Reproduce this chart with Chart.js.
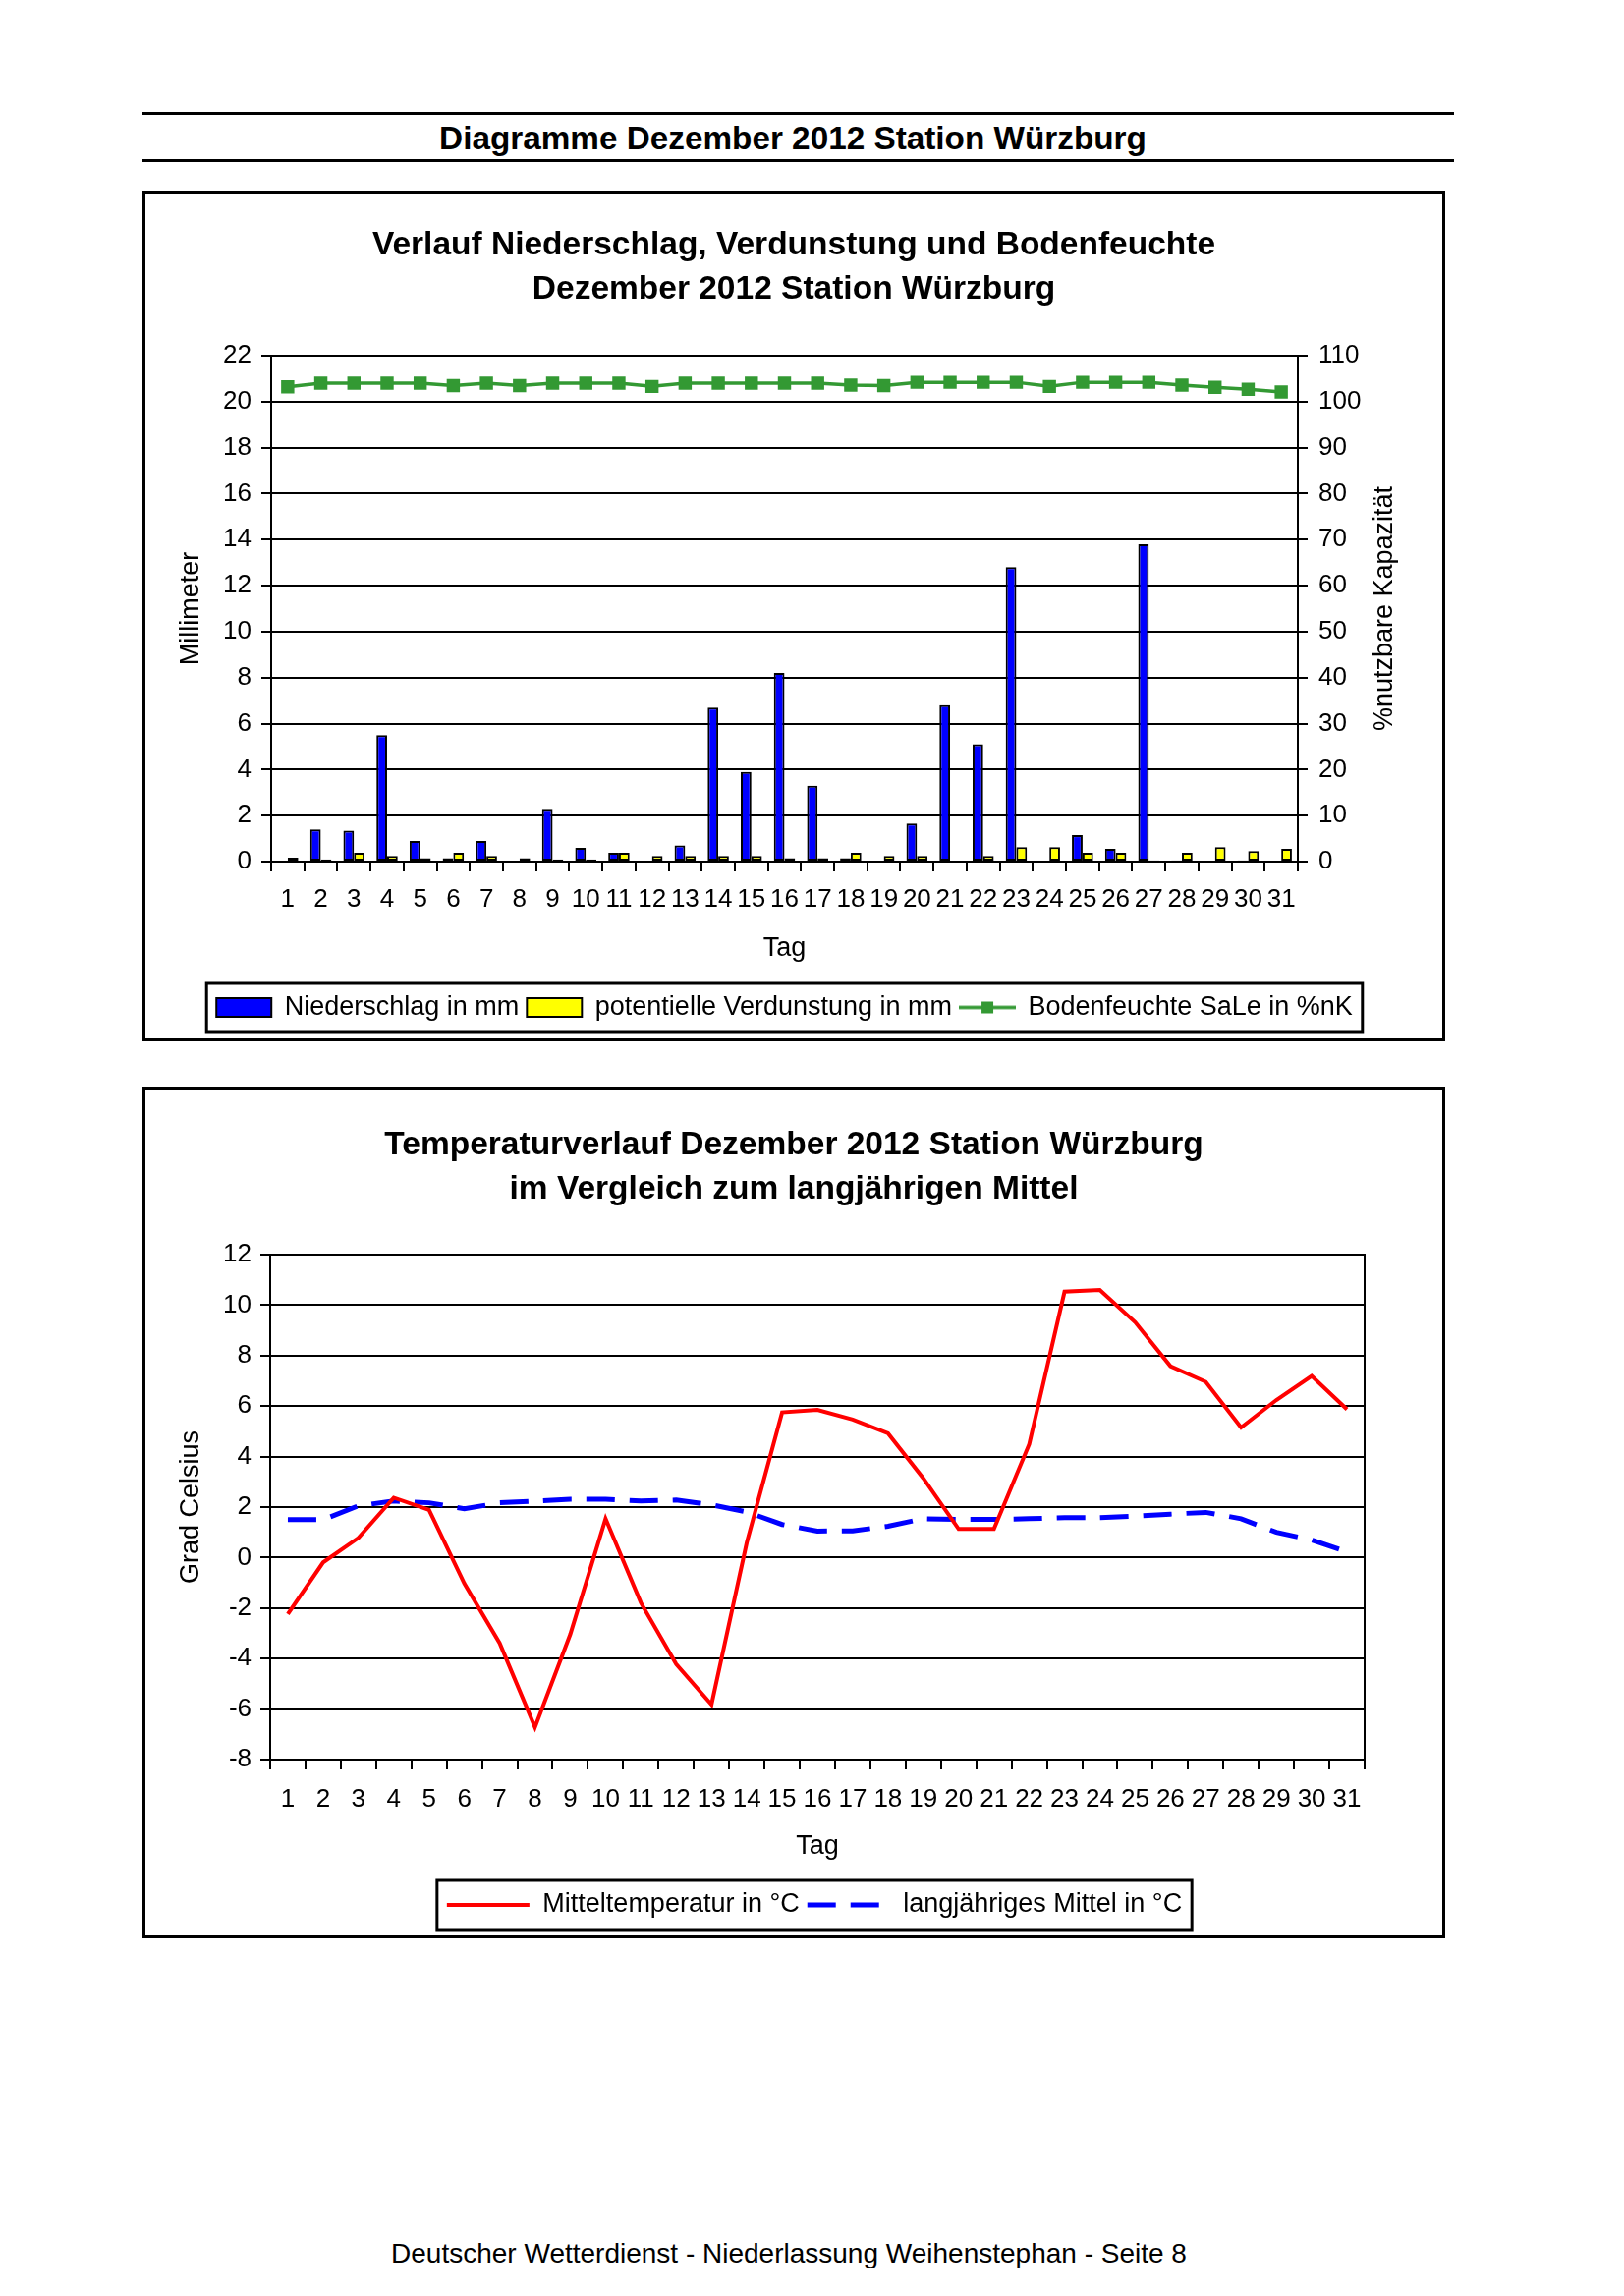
<!DOCTYPE html>
<html lang="de">
<head>
<meta charset="utf-8">
<title>Diagramme Dezember 2012 Station Würzburg</title>
<script src="https://cdn.jsdelivr.net/npm/chart.js@4.4.1/dist/chart.umd.min.js"></script>
<style>
  html, body { margin: 0; padding: 0; background: #fff; }
  body { position: relative; width: 1653px; height: 2337px; overflow: hidden;
         font-family: "Liberation Sans", Arial, sans-serif; color: #000; }
  .rule { position: absolute; left: 145px; width: 1335px; height: 3px; background: #000; }
  .page-title { position: absolute; left: 140px; width: 1334px; top: 120px; height: 42px;
                line-height: 42px; text-align: center; font-weight: bold; font-size: 33.3px; }
  .chart-box { position: absolute; left: 145px; width: 1320px; border: 3px solid #000; }
  .chart-box canvas { display: block; }
  .footer { position: absolute; left: 303px; width: 1000px; top: 2274px; height: 40px;
            line-height: 40px; text-align: center; font-size: 28px; }
</style>
</head>
<body>
<div class="rule" style="top:114px"></div>
<div class="page-title">Diagramme Dezember 2012 Station Würzburg</div>
<div class="rule" style="top:162px"></div>

<div class="chart-box" style="top:194px;height:860px">
  <canvas id="wasser" width="1320" height="860"></canvas>
</div>
<div class="chart-box" style="top:1106px;height:861px">
  <canvas id="temperatur" width="1320" height="861"></canvas>
</div>

<div class="footer">Deutscher Wetterdienst - Niederlassung Weihenstephan - Seite 8</div>

<script>
Chart.defaults.font.family = '"Liberation Sans", Arial, sans-serif'
Chart.defaults.color = '#000'
Chart.defaults.animation = false

// values
const tage = ['1', '2', '3', '4', '5', '6', '7', '8', '9', '10', '11', '12', '13', '14', '15', '16',
  '17', '18', '19', '20', '21', '22', '23', '24', '25', '26', '27', '28', '29', '30', '31']

const niederschlag = [0, 1.4, 1.35, 5.5, 0.9, 0.15, 0.9, 0, 2.3, 0.6, 0.38, 0, 0.7, 6.7, 3.9, 8.2,
  3.3, 0.15, 0, 1.65, 6.8, 5.1, 12.8, 0, 1.15, 0.55, 13.8, 0.05, 0, 0.05, 0]

const verdunstung = [0.17, 0.1, 0.38, 0.25, 0.15, 0.38, 0.25, 0.15, 0.1, 0.1, 0.38, 0.25, 0.25, 0.25, 0.25, 0.15,
  0.15, 0.38, 0.25, 0.25, 0, 0.25, 0.63, 0.63, 0.38, 0.38, 0.05, 0.38, 0.63, 0.46, 0.55]

const bodenfeuchte = [103.2, 104.0, 104.0, 104.0, 104.0, 103.5, 104.0, 103.5, 104.0, 104.0, 104.0, 103.3, 104.0, 104.0, 104.0, 104.0,
  104.0, 103.6, 103.5, 104.2, 104.2, 104.2, 104.2, 103.3, 104.2, 104.2, 104.2, 103.6, 103.1, 102.7, 102.1]

const mitteltemperatur = [-2.24, -0.19, 0.78, 2.37, 1.89, -1.03, -3.39, -6.72, -3.04, 1.54, -1.79, -4.22, -5.82, 0.6, 5.75, 5.85,
  5.47, 4.92, 3.14, 1.13, 1.13, 4.49, 10.53, 10.6, 9.32, 7.58, 6.96, 5.15, 6.24, 7.19, 5.87]

const langjaehrigesMittel = [1.5, 1.5, 2.05, 2.24, 2.17, 1.93, 2.17, 2.24, 2.31, 2.31, 2.24, 2.28, 2.09, 1.81, 1.31, 1.05,
  1.06, 1.24, 1.54, 1.51, 1.51, 1.54, 1.58, 1.58, 1.64, 1.72, 1.79, 1.54, 1.0, 0.7, 0.22]

const BLUE   = '#0000ff'
const YELLOW = '#ffff00'
const GREEN  = '#339933'
const RED    = '#ff0000'
const BLACK  = '#000000'

// nudge the legend sideways (the original centres it under the plot, not the canvas)
const legendShift = {
  id: 'legendShift',
  afterUpdate(chart, args, opts) {
    const l = chart.legend
    if (!l || !opts.dx) return
    l.left += opts.dx
    l.right += opts.dx
    l.legendHitBoxes.forEach(h => { h.left += opts.dx })
  },
}

// Excel-style frame around the legend row
const legendFrame = {
  id: 'legendFrame',
  afterDraw(chart, args, opts) {
    const boxes = chart.legend && chart.legend.legendHitBoxes
    if (!boxes || !boxes.length) return
    const left  = Math.min(...boxes.map(b => b.left)) - opts.padX
    const right = Math.max(...boxes.map(b => b.left + b.width)) + opts.padX
    const mid   = boxes[0].top + boxes[0].height / 2
    const ctx = chart.ctx
    ctx.save()
    ctx.lineWidth = 3
    ctx.strokeStyle = BLACK
    ctx.strokeRect(left, mid - opts.height / 2, right - left, opts.height)
    ctx.restore()
  },
}

// right axis title reads bottom-to-top in the original
const rightAxisTitle = {
  id: 'rightAxisTitle',
  afterDraw(chart, args, opts) {
    if (!opts.text) return
    const { ctx, chartArea } = chart
    ctx.save()
    ctx.translate(chartArea.right + opts.offset, (chartArea.top + chartArea.bottom) / 2)
    ctx.rotate(-Math.PI / 2)
    ctx.font = '27px "Liberation Sans", Arial, sans-serif'
    ctx.fillStyle = BLACK
    ctx.textAlign = 'center'
    ctx.textBaseline = 'middle'
    ctx.fillText(opts.text, 0, 0)
    ctx.restore()
  },
}

function soilLegendIcon() {
  const c = document.createElement('canvas')
  c.width = 58
  c.height = 16
  const g = c.getContext('2d')
  g.strokeStyle = GREEN
  g.lineWidth = 3.5
  g.beginPath()
  g.moveTo(0, 8)
  g.lineTo(58, 8)
  g.stroke()
  g.fillStyle = GREEN
  g.fillRect(23, 2, 12, 12)
  return c
}

const axisGrid = { color: BLACK, lineWidth: 2, tickLength: 10 }
const axisBorder = { color: BLACK, width: 2 }

function renderWasser() {
  const icon = soilLegendIcon()

  new Chart(document.getElementById('wasser'), {
    type: 'bar',
    data: {
      labels: tage,
      datasets: [
        {
          label: 'Niederschlag in mm',
          data: niederschlag,
          backgroundColor: BLUE,
          borderColor: BLACK,
          borderWidth: 2,
          borderSkipped: false,
          categoryPercentage: 0.64,
          barPercentage: 1,
          yAxisID: 'y',
        },
        {
          label: 'potentielle Verdunstung in mm',
          data: verdunstung,
          backgroundColor: YELLOW,
          borderColor: BLACK,
          borderWidth: 2,
          borderSkipped: false,
          categoryPercentage: 0.64,
          barPercentage: 1,
          yAxisID: 'y',
        },
        {
          type: 'line',
          label: 'Bodenfeuchte SaLe in %nK',
          data: bodenfeuchte,
          yAxisID: 'y1',
          borderColor: GREEN,
          backgroundColor: GREEN,
          borderWidth: 3.5,
          pointStyle: 'rect',
          pointRadius: 9.5,
          pointBorderWidth: 0,
          tension: 0,
        },
      ],
    },
    options: {
      responsive: false,
      events: [],
      layout: { padding: { top: 0, left: 0, right: 0, bottom: 8 } },
      plugins: {
        title: {
          display: true,
          text: ['Verlauf Niederschlag, Verdunstung und Bodenfeuchte', 'Dezember 2012 Station Würzburg'],
          color: BLACK,
          font: { size: 33.5, weight: 'bold', lineHeight: 1.343 },
          padding: { top: 30.5, bottom: 44.5 },
        },
        legend: {
          position: 'bottom',
          labels: {
            usePointStyle: true,
            pointStyleWidth: 56,
            boxHeight: 19,
            padding: 8,
            font: { size: 27 },
            generateLabels(chart) {
              const items = Chart.defaults.plugins.legend.labels.generateLabels(chart)
              items[0].pointStyle = 'rect'
              items[1].pointStyle = 'rect'
              items[2].pointStyle = icon
              return items
            },
          },
        },
        tooltip: { enabled: false },
        legendShift: { dx: -9.5 },
        legendFrame: { padX: 10, height: 49 },
        rightAxisTitle: { text: '%nutzbare Kapazität', offset: 89 },
      },
      scales: {
        x: {
          offset: true,
          grid: { ...axisGrid, offset: true, drawOnChartArea: false },
          border: axisBorder,
          ticks: { autoSkip: false, maxRotation: 0, padding: 13.4, font: { size: 26 } },
          title: { display: true, text: 'Tag', font: { size: 27 }, padding: { top: 0, bottom: 21.8 } },
          afterFit: s => { s.height = 127 },
        },
        y: {
          position: 'left',
          min: 0,
          max: 22,
          ticks: { stepSize: 2, padding: 10, font: { size: 26 } },
          grid: axisGrid,
          border: axisBorder,
          title: { display: true, text: 'Millimeter', font: { size: 27 }, padding: { top: 30.8, bottom: 0 } },
          afterFit: s => { s.width = 128 },
        },
        y1: {
          position: 'right',
          min: 0,
          max: 110,
          ticks: { stepSize: 10, padding: 11, font: { size: 26 } },
          grid: { ...axisGrid, drawOnChartArea: false },
          border: axisBorder,
          afterFit: s => { s.width = 147 },
        },
      },
    },
    plugins: [legendShift, legendFrame, rightAxisTitle],
  })
}

function renderTemperatur() {
  new Chart(document.getElementById('temperatur'), {
    type: 'line',
    data: {
      labels: tage,
      datasets: [
        {
          label: 'Mitteltemperatur in °C',
          data: mitteltemperatur,
          borderColor: RED,
          backgroundColor: RED,
          borderWidth: 4,
          pointRadius: 0,
          tension: 0,
        },
        {
          label: 'langjähriges Mittel in °C',
          data: langjaehrigesMittel,
          borderColor: BLUE,
          backgroundColor: BLUE,
          borderWidth: 5,
          borderDash: [29, 15],
          pointRadius: 0,
          tension: 0,
        },
      ],
    },
    options: {
      responsive: false,
      events: [],
      layout: { padding: { top: 0, left: 0, right: 0, bottom: 7.5 } },
      plugins: {
        title: {
          display: true,
          text: ['Temperaturverlauf Dezember 2012 Station Würzburg', 'im Vergleich zum langjährigen Mittel'],
          color: BLACK,
          font: { size: 33.5, weight: 'bold', lineHeight: 1.343 },
          padding: { top: 34, bottom: 44 },
        },
        legend: {
          position: 'bottom',
          fullSize: false,
          labels: {
            usePointStyle: true,
            pointStyle: 'line',
            pointStyleWidth: 84,
            padding: 8,
            font: { size: 27 },
            // point-style legend items take the point options; use the line's own stroke instead
            generateLabels(chart) {
              const items = Chart.defaults.plugins.legend.labels.generateLabels(chart)
              items.forEach(item => {
                const ds = chart.data.datasets[item.datasetIndex]
                item.strokeStyle = ds.borderColor
                item.lineWidth = ds.borderWidth
                item.lineDash = ds.borderDash || []
              })
              return items
            },
          },
        },
        tooltip: { enabled: false },
        legendShift: { dx: -3 },
        legendFrame: { padX: 10, height: 50 },
      },
      scales: {
        x: {
          offset: true,
          grid: { ...axisGrid, offset: true, drawOnChartArea: false },
          border: axisBorder,
          ticks: { autoSkip: false, maxRotation: 0, padding: 15.4, font: { size: 26 } },
          title: { display: true, text: 'Tag', font: { size: 27 }, padding: { top: 0, bottom: 21.3 } },
          afterFit: s => { s.height = 126.5 },
        },
        y: {
          position: 'left',
          min: -8,
          max: 12,
          ticks: { stepSize: 2, padding: 9, font: { size: 26 } },
          grid: axisGrid,
          border: axisBorder,
          title: { display: true, text: 'Grad Celsius', font: { size: 27 }, padding: { top: 30.8, bottom: 0 } },
          afterFit: s => { s.width = 127 },
        },
        y2: {
          position: 'right',
          ticks: { display: false },
          grid: { drawOnChartArea: false, drawTicks: false },
          border: axisBorder,
          afterFit: s => { s.width = 79 },
        },
      },
    },
    plugins: [legendShift, legendFrame],
  })
}

renderWasser()
renderTemperatur()
</script>
</body>
</html>
